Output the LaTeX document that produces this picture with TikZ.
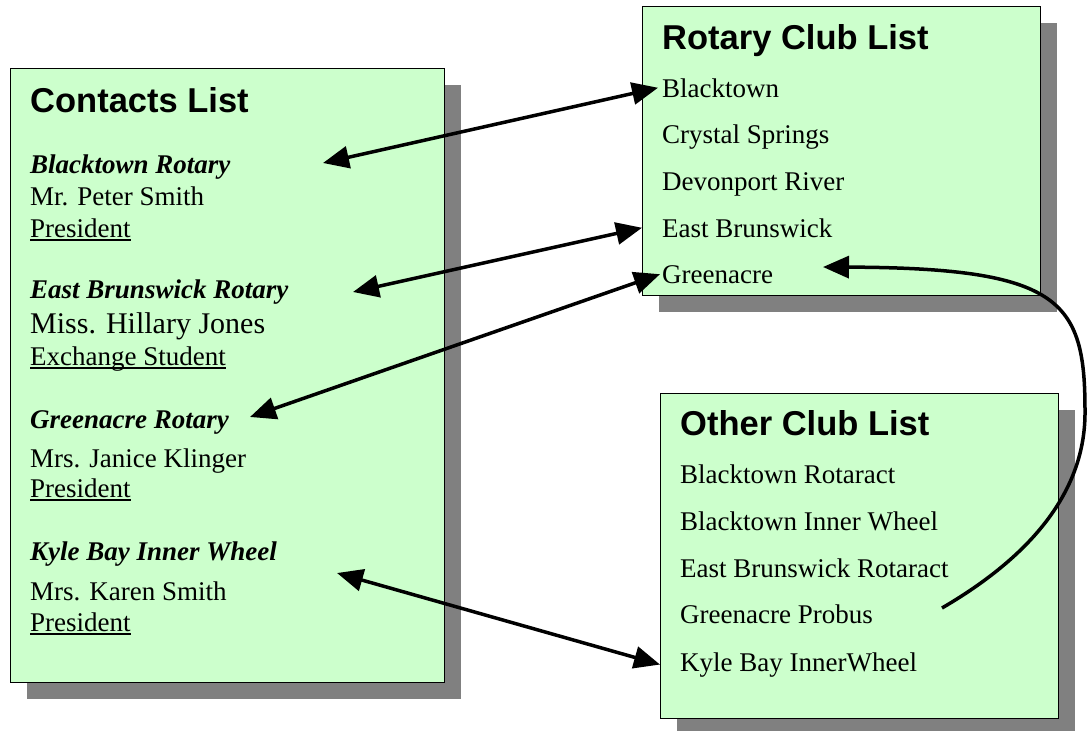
\documentclass[tikz,border=0pt]{standalone}
\usepackage{fontspec}
\setmainfont{Liberation Serif}
\newfontfamily\titlefont{Liberation Sans}
\usetikzlibrary{arrows.meta,shadows}
\definecolor{listgreen}{HTML}{CCFFCC}
\definecolor{shadowgray}{HTML}{808080}
\newsavebox\ulbox
\newcommand{\underword}[1]{\sbox\ulbox{#1}\rlap{\rule[-4pt]{\wd\ulbox}{1.8pt}}\usebox\ulbox}
\tikzset{
  listbox/.style={draw=black, line width=1.4pt, fill=listgreen, anchor=north west, inner sep=0pt,
    drop shadow={shadow xshift=16pt, shadow yshift=-16pt, fill=shadowgray, opacity=1}},
  listtitle/.style={anchor=base west, inner sep=0pt, font=\titlefont\bfseries\fontsize{34.5}{40}\selectfont},
  entry/.style={anchor=base west, inner sep=0pt, font=\fontsize{27}{32}\selectfont},
  clubname/.style={entry, font=\fontsize{27}{32}\selectfont\bfseries\itshape}
}
\begin{document}
\begin{tikzpicture}[x=1pt, y=-1pt, >={Triangle[length=26pt,width=22pt]}]
  \useasboundingbox (0,0) rectangle (1088,731);
  % the three lists
  \node[listbox, minimum width=434pt, minimum height=614pt] (contacts) at (10,68) {};
  \node[listbox, minimum width=398pt, minimum height=289pt] (rotary) at (642,6) {};
  \node[listbox, minimum width=398pt, minimum height=325pt] (other) at (660,393) {};
  \node[listtitle] (ctitle) at (30,112) {Contacts List};
  \node[listtitle] (rtitle) at (662,49) {Rotary Club List};
  \node[listtitle] (otitle) at (680,435) {Other Club List};
  \begin{scope}[every node/.style={entry}]
    % contacts
    \node[clubname] (cBlack) at (30,173) {Blacktown Rotary};
    \node (cPeter) at (30,205) {Mr. Peter Smith};
    \node (cPres1) at (30,237) {\underword{President}};
    \node[clubname] (cEast) at (30,298) {East Brunswick Rotary};
    \node[font=\fontsize{30}{34}\selectfont] (cHillary) at (30,333) {Miss. Hillary Jones};
    \node (cExch) at (30,365) {\underword{Exchange Student}};
    \node[clubname] (cGreen) at (30,428) {Greenacre Rotary};
    \node (cJanice) at (30,467) {Mrs. Janice Klinger};
    \node (cPres2) at (30,497) {\underword{President}};
    \node[clubname] (cKyle) at (30,560) {Kyle Bay Inner Wheel};
    \node (cKaren) at (30,600) {Mrs. Karen Smith};
    \node (cPres3) at (30,631) {\underword{President}};
    % rotary clubs
    \node (rBlack) at (662,97) {Blacktown};
    \node (rCrystal) at (662,143) {Crystal Springs};
    \node (rDevon) at (662,190) {Devonport River};
    \node (rEast) at (662,237) {East Brunswick};
    \node (rGreen) at (662,283) {Greenacre};
    % other clubs
    \node (oBlackR) at (680,483) {Blacktown Rotaract};
    \node (oBlackI) at (680,530) {Blacktown Inner Wheel};
    \node (oEast) at (680,577) {East Brunswick Rotaract};
    \node (oGreen) at (680,623) {Greenacre Probus};
    \node (oKyle) at (680,671) {Kyle Bay InnerWheel};
  \end{scope}
  \coordinate (cBlackEnd) at (323,163);
  \coordinate (cEastEnd) at (353,292);
  \coordinate (cGreenEnd) at (250,417);
  \coordinate (cKyleEnd) at (337,573);
  \coordinate (oGreenEnd) at (942,608);
  \coordinate (rGreenEnd) at (823,267);
  \begin{scope}[every edge/.style={draw=black, line width=3.5pt}]
    \path[<->] (cBlackEnd) edge ([xshift=-4pt]rBlack.west);
    \path[<->] (cEastEnd) edge (rEast.west -| rotary.west);
    \path[<->] (cGreenEnd) edge ([xshift=-2pt]rGreen.west);
    \path[<->] (cKyleEnd) edge (oKyle.west -| other.west);
  \end{scope}
  \draw[->, line width=3.5pt] (oGreenEnd) .. controls (1045,548) and (1086,480) .. (1085,410)
    .. controls (1085,300) and (1060,268) .. (rGreenEnd);
\end{tikzpicture}
\end{document}
